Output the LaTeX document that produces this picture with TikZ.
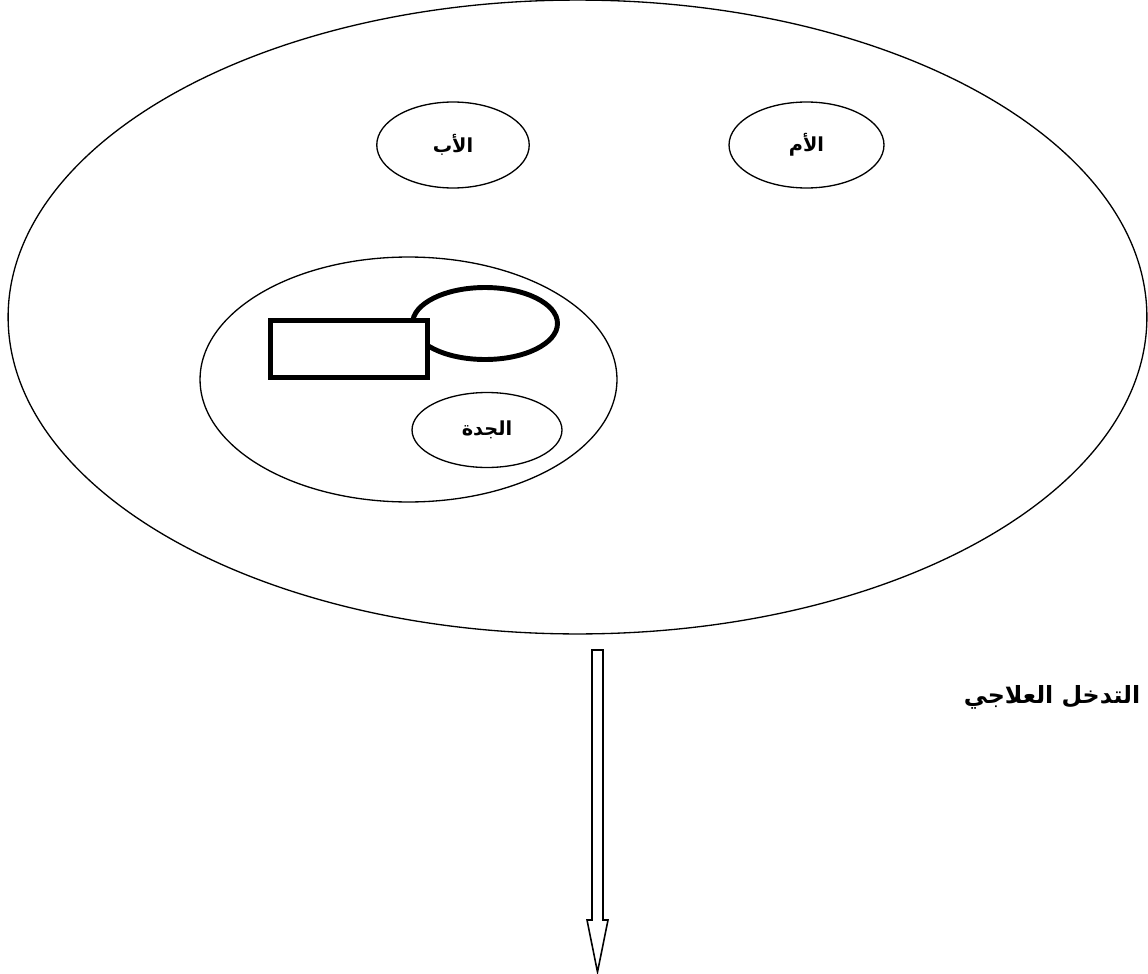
\documentclass[tikz,border=0pt]{standalone}
\usepackage{fontspec}
\newfontfamily\arabicfont[Script=Arabic]{DejaVu Sans}
\TeXXeTstate=1
\usepackage{tikz}
\usetikzlibrary{shapes.geometric}

\begin{document}
\begin{tikzpicture}[
    x=0.02cm, y=-0.02cm,
    family/.style={draw, ellipse, inner sep=0pt, line width=0.75pt},
    member/.style={family, minimum width=3.05cm, minimum height=1.72cm, font=\arabicfont\bfseries\fontsize{11}{13}\selectfont},
    bold/.style={draw, line width=2.8pt},
]
  \useasboundingbox (0,0) rectangle (1148,973);

  \node[family, minimum width=22.78cm, minimum height=12.68cm] (home) at (577.5, 317) {};
  \node[member] (father) at (453, 145) {\beginR الأب\endR};
  \node[member, minimum width=3.1cm] (mother) at (806.5, 145) {\beginR الأم\endR};

  \node[family, minimum width=8.34cm, minimum height=4.9cm] (sub) at (408.5, 379.5) {};
  \node[bold, ellipse, minimum width=2.9cm, minimum height=1.44cm, inner sep=0pt] (circ) at (485, 323.5) {};
  \node[bold, rectangle, fill=white, minimum width=3.14cm, minimum height=1.14cm, inner sep=0pt] (box) at (349, 349) {};
  \node[member, minimum width=3.0cm, minimum height=1.5cm] (grandma) at (487, 430) {\beginR الجدة\endR};

  % arrow
  \coordinate (top) at (597.5, 650);
  \coordinate (tip) at (597.5, 972);
  \draw[line width=0.9pt, line join=miter]
    ([xshift=-0.11cm]top) -- ([xshift=0.11cm]top)
    -- ([xshift=0.11cm, yshift=1.04cm]tip) -- ([xshift=0.21cm, yshift=1.04cm]tip)
    -- (tip)
    -- ([xshift=-0.21cm, yshift=1.04cm]tip) -- ([xshift=-0.11cm, yshift=1.04cm]tip) -- cycle;

  \node[font=\arabicfont\bfseries\fontsize{13.5}{16}\selectfont] (care) at (1052, 697) {\beginR التدخل العلاجي\endR};
\end{tikzpicture}
\end{document}
